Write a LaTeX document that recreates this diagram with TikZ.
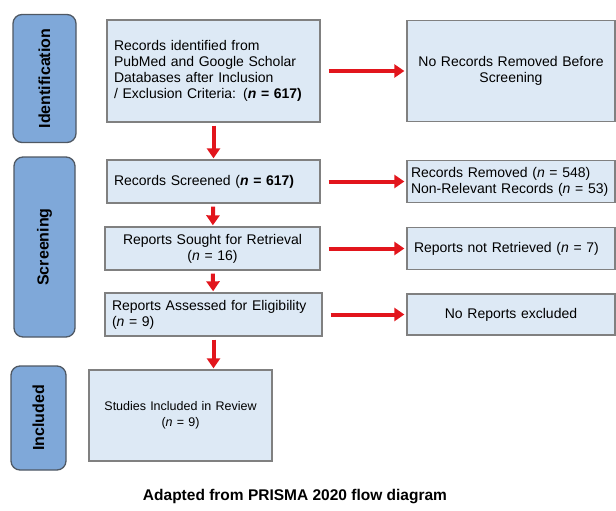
\documentclass[tikz,border=0pt]{standalone}
\usepackage{fontspec}
\setmainfont{Liberation Sans}
\usetikzlibrary{arrows.meta,positioning}

\definecolor{boxfill}{HTML}{DDE9F5}
\definecolor{boxline}{HTML}{808080}
\definecolor{phasefill}{HTML}{7FA8D9}
\definecolor{phaseline}{HTML}{4F5863}
\definecolor{flowred}{HTML}{E2151C}

\begin{document}
\begin{tikzpicture}[x=1pt,y=-1pt,
    stepbox/.style={draw=boxline,fill=boxfill,line width=1.3pt,inner sep=7pt,
                    font=\fontsize{14}{16}\selectfont},
    phase/.style={draw=phaseline,fill=phasefill,line width=1.3pt,rounded corners=9pt,
                  rotate=90,font=\fontsize{16}{18}\selectfont\bfseries},
    flow/.style={-{Triangle[width=13pt,length=10pt]},draw=flowred,line width=4pt}]
  \useasboundingbox (0,0) rectangle (616,511);

  % phases
  \node[phase, minimum width=128pt, minimum height=63pt] (ident)  at (44.5,78.5) {Identification};
  \node[phase, minimum width=180pt, minimum height=61pt] (screen) at (44.5,247)  {Screening};
  \node[phase, minimum width=104pt, minimum height=55pt] (incl)   at (38.5,418)  {Included};

  % main column
  \node[stepbox, minimum width=213pt, minimum height=102pt, text width=199pt, align=left]
        (rec) at (213.5,71)
        {Records identified from\\PubMed and Google Scholar\\Databases after Inclusion\\/ Exclusion Criteria: (\textbf{\textit{n}} \textbf{= 617)}};
  \node[stepbox, minimum width=213pt, minimum height=43pt, text width=199pt, align=left]
        (screened) at (213.5,181.5) {Records Screened (\textbf{\textit{n}} \textbf{= 617)}};
  \node[stepbox, minimum width=215pt, minimum height=43pt, text width=201pt, align=center]
        (sought) at (212.5,248.5) {Reports Sought for Retrieval\\(\textit{n} = 16)};
  \node[stepbox, minimum width=217pt, minimum height=43pt, text width=203pt, align=left]
        (assessed) at (213.5,314.5) {Reports Assessed for Eligibility\\(\textit{n} = 9)};
  \node[stepbox, minimum width=183pt, minimum height=91pt, text width=175pt, align=center,
        inner sep=4pt, font=\fontsize{12.5}{15.5}\selectfont]
        (studies) at (180.5,415.5) {Studies Included in Review\\(\textit{n} = 9)};

  % side column
  \node[stepbox, minimum width=208pt, minimum height=101pt, text width=194pt, align=center]
        (norem) at (511,71) {No Records Removed Before\\Screening};
  \node[stepbox, minimum width=208pt, minimum height=42pt, text width=200pt, align=left,
        inner sep=4pt]
        (removed) at (511,181.5) {Records Removed (\textit{n} = 548)\\Non-Relevant Records (\textit{n} = 53)};
  \node[stepbox, minimum width=208pt, minimum height=42pt, text width=194pt, align=left]
        (notret) at (511,248.5) {Reports not Retrieved (\textit{n} = 7)};
  \node[stepbox, minimum width=208pt, minimum height=41pt, text width=194pt, align=center]
        (noexcl) at (511,314.5) {No Reports excluded};

  \node[font=\fontsize{15.5}{20}\selectfont\bfseries] (caption) at (295,497)
        {Adapted from PRISMA 2020 flow diagram};

  \path (rec) edge[flow, shorten <=3pt, shorten >=1pt] (screened)
        (screened) edge[flow, shorten <=3pt, shorten >=1pt] (sought)
        (sought) edge[flow, shorten <=3pt, shorten >=1pt] (assessed)
        (assessed.south) edge[flow, shorten <=3pt, shorten >=1pt] (assessed.south |- studies.north);
  \path (rec) edge[flow, shorten <=8pt, shorten >=2pt] (norem)
        (screened) edge[flow, shorten <=8pt, shorten >=2pt] (removed)
        (sought) edge[flow, shorten <=8pt, shorten >=2pt] (notret)
        (assessed) edge[flow, shorten <=8pt, shorten >=2pt] (noexcl);
\end{tikzpicture}
\end{document}
